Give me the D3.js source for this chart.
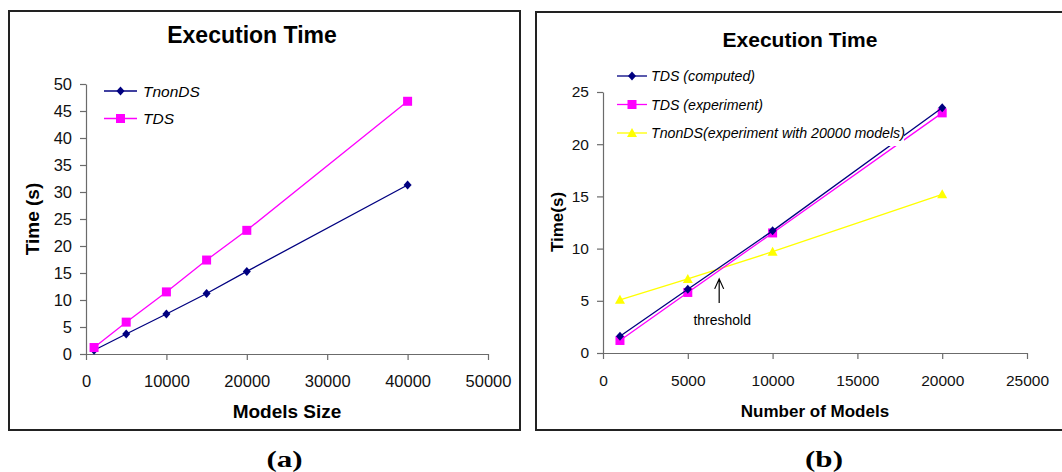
<!DOCTYPE html>
<html lang="en">
<head>
<meta charset="UTF-8">
<title>Execution Time</title>
<script src="https://cdn.jsdelivr.net/npm/d3@7"></script>
<style>
  body { margin: 0; background: #fff; }
  text { font-family: Arial, "Liberation Sans", sans-serif; }
</style>
</head>
<body>
<script>
    // panel (a) data
    const sizesA = [1000, 5000, 10000, 15000, 20000, 40000];
    const tnonDSA = [0.7, 3.7, 7.4, 11.2, 15.3, 31.3];
    const tdsA = [1.2, 5.9, 11.5, 17.4, 22.9, 46.8];
    const xTicksA = [0, 10000, 20000, 30000, 40000, 50000];
    const yTicksA = [0, 5, 10, 15, 20, 25, 30, 35, 40, 45, 50];

    // panel (b) data
    const modelsB = [1000, 5000, 10000, 20000];
    const tdsComputedB = [1.6, 6.1, 11.7, 23.5];
    const tdsExperimentB = [1.2, 5.8, 11.5, 23.0];
    const tnonDSB = [5.1, 7.1, 9.7, 15.2];
    const xTicksB = [0, 5000, 10000, 15000, 20000, 25000];
    const yTicksB = [0, 5, 10, 15, 20, 25];
    const threshold = { x: 6850, yTip: 7.1, yEnd: 4.8, yText: 2.7, label: "threshold" };

    const NAVY = "#000080", MAGENTA = "#ff00ff", YELLOW = "#ffff00", AXIS = "#6b6b6b";

    const svg = d3.select("body").append("svg")
        .attr("width", 1062)
        .attr("height", 472);

    // frames
    svg.append("rect").attr("x", 9).attr("y", 11).attr("width", 511).attr("height", 419)
        .attr("fill", "none").attr("stroke", "#222").attr("stroke-width", 2);
    svg.append("rect").attr("x", 536).attr("y", 12).attr("width", 540).attr("height", 418)
        .attr("fill", "none").attr("stroke", "#222").attr("stroke-width", 2);

    function marker(g, type, cx, cy, color) {
        if (type === "diamond") {
            g.append("path").attr("transform", `translate(${cx},${cy})`)
                .attr("d", "M0,-4.5L4,0L0,4.5L-4,0Z").attr("fill", color);
        } else if (type === "square") {
            g.append("rect").attr("x", cx - 4.5).attr("y", cy - 4.5)
                .attr("width", 9).attr("height", 9).attr("fill", color);
        } else {
            g.append("path").attr("transform", `translate(${cx},${cy})`)
                .attr("d", "M0,-5L5,4L-5,4Z").attr("fill", color);
        }
    }

    function drawAxes(g, x, y, xTicks, yTicks, tickFont) {
        const ax = g.append("g").attr("transform", `translate(0,${y.range()[0]})`)
            .call(d3.axisBottom(x).tickValues(xTicks).tickFormat(d3.format("d"))
                .tickSizeInner(6).tickSizeOuter(0).tickPadding(4));
        ax.selectAll("text").attr("y", 0).attr("dy", 0)
            .attr("transform", "translate(0,33)")
            .style("font-size", tickFont + "px").attr("fill", "#111");

        const ay = g.append("g").attr("transform", `translate(${x.range()[0]},0)`)
            .call(d3.axisLeft(y).tickValues(yTicks).tickSizeInner(6).tickSizeOuter(0).tickPadding(8));
        ay.selectAll("text").style("font-size", tickFont + "px").attr("fill", "#111");

        g.selectAll(".domain, .tick line").attr("stroke", AXIS).attr("stroke-width", 1.2);
    }

    function drawSeries(g, x, y, xs, ys, color, type) {
        const pts = xs.map((d, i) => [d, ys[i]]);
        g.append("path").datum(pts)
            .attr("fill", "none").attr("stroke", color).attr("stroke-width", 1.3)
            .attr("d", d3.line().x(d => x(d[0])).y(d => y(d[1])));
        pts.forEach(d => marker(g, type, x(d[0]), y(d[1]), color));
    }

    // ---------- panel (a) ----------
    const gA = svg.append("g");
    const xA = d3.scaleLinear().domain([0, 50000]).range([86, 488]);
    const yA = d3.scaleLinear().domain([0, 50]).range([354, 84]);
    drawAxes(gA, xA, yA, xTicksA, yTicksA, 16.5);
    drawSeries(gA, xA, yA, sizesA, tnonDSA, NAVY, "diamond");
    drawSeries(gA, xA, yA, sizesA, tdsA, MAGENTA, "square");

    gA.append("text").attr("x", 252).attr("y", 43).attr("text-anchor", "middle")
        .style("font-size", "23px").style("font-weight", "bold").text("Execution Time");
    gA.append("text").attr("x", 287).attr("y", 418).attr("text-anchor", "middle")
        .style("font-size", "19px").style("font-weight", "bold").text("Models Size");
    gA.append("text").attr("transform", "translate(39,219) rotate(-90)").attr("text-anchor", "middle")
        .style("font-size", "19px").style("font-weight", "bold").text("Time (s)");

    const legA = [
        { label: "TnonDS", color: NAVY, type: "diamond" },
        { label: "TDS", color: MAGENTA, type: "square" }
    ];
    legA.forEach((d, i) => {
        const ly = 91 + i * 27.5;
        gA.append("line").attr("x1", 104).attr("x2", 137).attr("y1", ly).attr("y2", ly)
            .attr("stroke", d.color).attr("stroke-width", 1.3);
        marker(gA, d.type, 120.5, ly, d.color);
        gA.append("text").attr("x", 143).attr("y", ly + 5.5)
            .style("font-size", "15.5px").style("font-style", "italic").text(d.label);
    });

    // ---------- panel (b) ----------
    const gB = svg.append("g");
    const xB = d3.scaleLinear().domain([0, 25000]).range([603, 1027]);
    const yB = d3.scaleLinear().domain([0, 25]).range([353, 92]);
    drawAxes(gB, xB, yB, xTicksB, yTicksB, 15.5);
    drawSeries(gB, xB, yB, modelsB, tnonDSB, YELLOW, "triangle");
    drawSeries(gB, xB, yB, modelsB, tdsExperimentB, MAGENTA, "square");
    drawSeries(gB, xB, yB, modelsB, tdsComputedB, NAVY, "diamond");

    gB.append("text").attr("x", 800).attr("y", 47).attr("text-anchor", "middle")
        .style("font-size", "21px").style("font-weight", "bold").text("Execution Time");
    gB.append("text").attr("x", 815).attr("y", 417).attr("text-anchor", "middle")
        .style("font-size", "17px").style("font-weight", "bold").text("Number of Models");
    gB.append("text").attr("transform", "translate(563,222) rotate(-90)").attr("text-anchor", "middle")
        .style("font-size", "17px").style("font-weight", "bold").text("Time(s)");

    // threshold annotation
    const tx = xB(threshold.x);
    gB.append("path")
        .attr("d", `M${tx},${yB(threshold.yEnd)}L${tx},${yB(threshold.yTip)}` +
            `M${tx - 4.5},${yB(threshold.yTip) + 10}L${tx},${yB(threshold.yTip)}L${tx + 4.5},${yB(threshold.yTip) + 10}`)
        .attr("fill", "none").attr("stroke", "#000").attr("stroke-width", 1.2);
    gB.append("text").attr("x", tx + 3).attr("y", yB(threshold.yText)).attr("text-anchor", "middle")
        .style("font-size", "14px").text(threshold.label);

    // legend (b) with white background
    gB.append("rect").attr("x", 613).attr("y", 63).attr("width", 291).attr("height", 83).attr("fill", "#fff");
    const legB = [
        { label: "TDS (computed)", color: NAVY, type: "diamond" },
        { label: "TDS (experiment)", color: MAGENTA, type: "square" },
        { label: "TnonDS(experiment with 20000 models)", color: YELLOW, type: "triangle" }
    ];
    legB.forEach((d, i) => {
        const ly = 76 + i * 28.5;
        gB.append("line").attr("x1", 617).attr("x2", 647).attr("y1", ly).attr("y2", ly)
            .attr("stroke", d.color).attr("stroke-width", 1.3);
        marker(gB, d.type, 632, ly, d.color);
        gB.append("text").attr("x", 651).attr("y", ly + 5)
            .style("font-size", "14.2px").style("font-style", "italic").text(d.label);
    });

    // captions
    [["(a)", 284.5], ["(b)", 824]].forEach(([t, cx]) => {
        svg.append("text").attr("transform", `translate(${cx},467) scale(1.35,1)`)
            .attr("text-anchor", "middle")
            .style("font-family", "'Liberation Serif', 'Times New Roman', serif")
            .style("font-size", "23px").style("font-weight", "bold").text(t);
    });
</script>
</body>
</html>
